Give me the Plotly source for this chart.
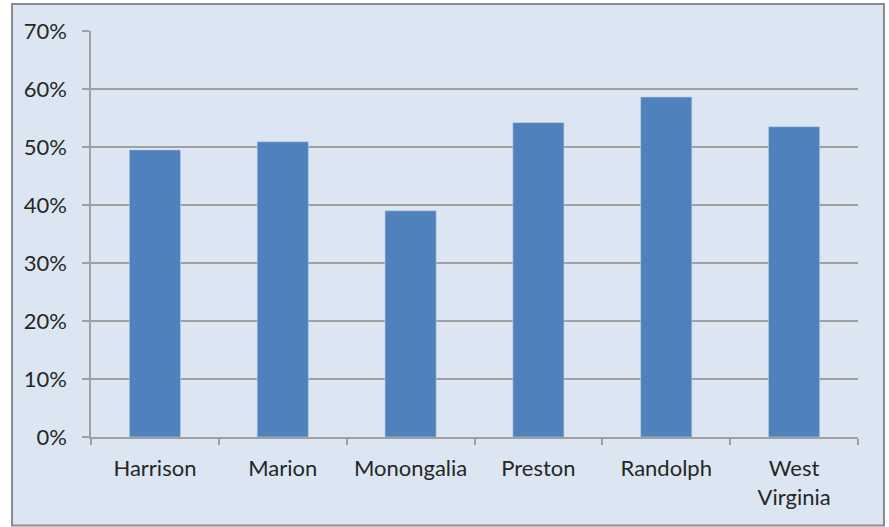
import plotly.graph_objects as go

categories = ["Harrison", "Marion", "Monongalia", "Preston", "Randolph", "West<br>Virginia"]
values = [0.495, 0.509, 0.390, 0.542, 0.586, 0.535]
tick_vals = [0, 0.1, 0.2, 0.3, 0.4, 0.5, 0.6, 0.7]
tick_text = ["0%", "10%", "20%", "30%", "40%", "50%", "60%", "70%"]

W, H = 889, 527
L, R, T, B = 91, 31, 31, 90
pw, ph = W - L - R, H - T - B

def px_x(x):
    return (x - L) / pw

def px_y(y):
    return (H - B - y) / ph

fig = go.Figure(go.Bar(
    x=categories, y=values, width=0.4,
    marker=dict(color="#4f81bd", line=dict(color="#b9cde5", width=0.6)),
))

fig.add_shape(type="rect", xref="paper", yref="paper",
              x0=px_x(12), x1=px_x(884), y0=px_y(525.5), y1=px_y(4),
              fillcolor="#dce6f2", line=dict(color="#8c8c8c", width=2), layer="below")

font = dict(family="Lato, 'Open Sans', sans-serif", size=22, color="#262626")

fig.update_layout(
    width=W, height=H,
    margin=dict(l=L, r=R, t=T, b=B),
    paper_bgcolor="white",
    plot_bgcolor="rgba(0,0,0,0)",
    showlegend=False,
    bargap=0.6,
    font=font,
)
fig.update_xaxes(
    type="category", showgrid=False, showline=True, linecolor="#a0a0a0", linewidth=1.5,
    ticks="outside", ticklen=6, tickcolor="#a0a0a0", tickwidth=1.5, tickson="boundaries",
    ticklabelstandoff=11, tickfont=font,
)
fig.update_yaxes(
    range=[0, 0.7], tickvals=tick_vals, ticktext=tick_text,
    showgrid=True, gridcolor="#a0a0a0", gridwidth=1.5,
    showline=True, linecolor="#a0a0a0", linewidth=1.5,
    ticks="outside", ticklen=7, tickcolor="#a0a0a0", tickwidth=1.5,
    ticklabelstandoff=11, tickfont=font, zeroline=False,
)

fig.write_html("out.html")
